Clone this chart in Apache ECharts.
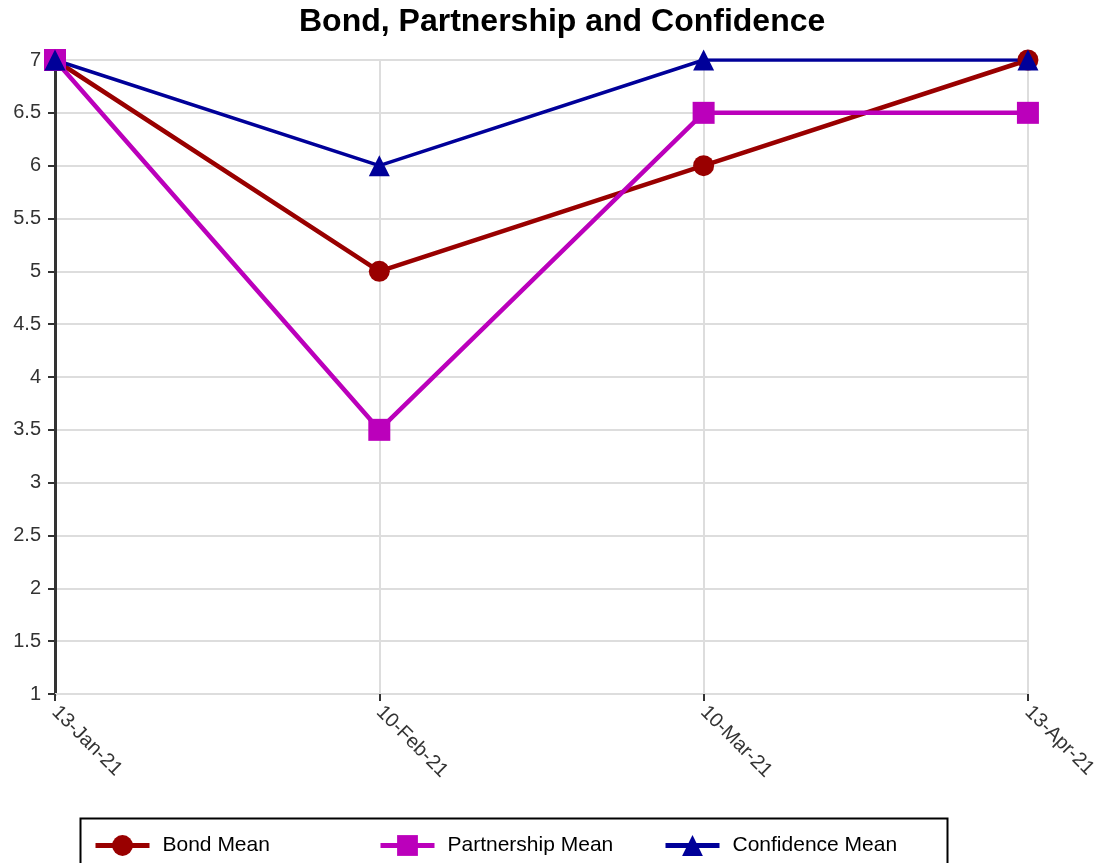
<!DOCTYPE html>
<html><head><meta charset="utf-8">
<script src="https://cdn.jsdelivr.net/npm/echarts@6/dist/echarts.min.js"></script>
<style>html,body{margin:0;padding:0;background:#fff;overflow:hidden;}#c{width:1100px;height:863px;}</style>
</head><body><div id="c"></div>
<script>
const categories = ['13-Jan-21', '10-Feb-21', '10-Mar-21', '13-Apr-21'];
const bondMean = [7, 5, 6, 7];
const partnershipMean = [7, 3.5, 6.5, 6.5];
const confidenceMean = [7, 6, 7, 7];
const seriesNames = ['Bond Mean', 'Partnership Mean', 'Confidence Mean'];

const FONT = 'Liberation Sans, Arial, sans-serif';
const legendLefts = [93, 378, 663];
const chart = echarts.init(document.getElementById('c'));
chart.setOption({
  animation: false,
  backgroundColor: '#fff',
  title: {
    text: 'Bond, Partnership and Confidence',
    left: 294, top: 1,
    textStyle: {fontFamily: FONT, fontSize: 32, fontWeight: 'bold', color: '#000'}
  },
  grid: {left: 55, right: 66, top: 60, bottom: 169, containLabel: false},
  xAxis: {
    type: 'category', data: categories, boundaryGap: false,
    axisLine: {lineStyle: {color: '#ddd', width: 2}},
    axisTick: {show: true, alignWithLabel: true, length: 7, lineStyle: {color: '#333', width: 2}},
    splitLine: {show: true, lineStyle: {color: '#ddd', width: 2}},
    axisLabel: {rotate: -45, color: '#333', fontSize: 20, margin: 15, fontFamily: FONT}
  },
  yAxis: {
    type: 'value', min: 1, max: 7, interval: 0.5,
    axisLine: {show: true, lineStyle: {color: '#333', width: 3}},
    axisTick: {show: true, length: 7, lineStyle: {color: '#333', width: 2}},
    splitLine: {show: true, lineStyle: {color: '#ddd', width: 2}},
    axisLabel: {color: '#333', fontSize: 20, margin: 14, fontFamily: FONT}
  },
  graphic: [{
    type: 'rect', left: 78, top: 816, silent: true,
    shape: {width: 867, height: 70},
    style: {fill: 'none', stroke: '#000', lineWidth: 2}
  }],
  legend: seriesNames.map(function (n, i) {
    return {
      left: legendLefts[i], top: 835, padding: 0,
      itemWidth: 54, itemHeight: 26,
      lineStyle: {width: 5},
      textStyle: {fontSize: 21, color: '#000', fontFamily: FONT, padding: [0, 0, 0, 8]},
      data: [n]
    };
  }),
  series: [
    {name: seriesNames[0], type: 'line', data: bondMean, symbol: 'circle', symbolSize: 21,
     itemStyle: {color: '#990000'}, lineStyle: {color: '#990000', width: 4.5}},
    {name: seriesNames[1], type: 'line', data: partnershipMean, symbol: 'rect', symbolSize: 22,
     itemStyle: {color: '#bb00bb'}, lineStyle: {color: '#bb00bb', width: 4.5}},
    {name: seriesNames[2], type: 'line', data: confidenceMean, symbol: 'triangle', symbolSize: 21,
     itemStyle: {color: '#000099'}, lineStyle: {color: '#000099', width: 3.5}}
  ]
});
</script></body></html>
